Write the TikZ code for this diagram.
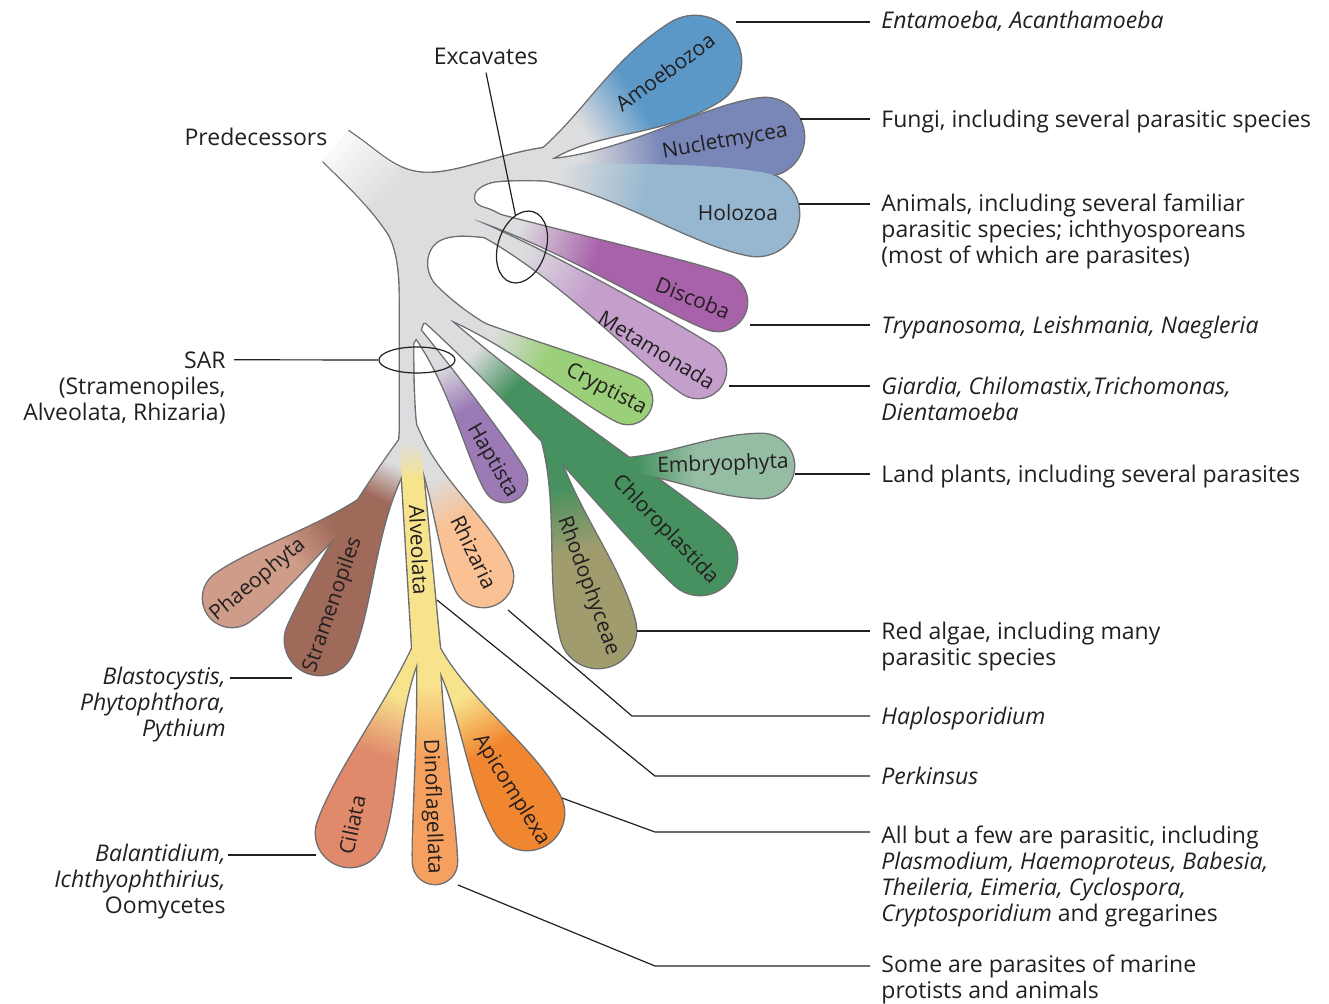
\documentclass[tikz,border=0pt]{standalone}
\usepackage{fontspec}
\setmainfont{Open Sans}
\usetikzlibrary{shapes.geometric}

\definecolor{ink}{HTML}{231F20}
\definecolor{rimgray}{HTML}{6D6E71}
\definecolor{stem}{HTML}{DCDDDF}
\definecolor{amoeba}{HTML}{5B98C7}
\definecolor{nucle}{HTML}{7887B8}
\definecolor{holo}{HTML}{96B7CF}
\definecolor{disco}{HTML}{A862AA}
\definecolor{metamo}{HTML}{C49FCC}
\definecolor{crypti}{HTML}{9CCF79}
\definecolor{chloro}{HTML}{46915F}
\definecolor{embryo}{HTML}{95BDA4}
\definecolor{rhodo}{HTML}{A09C6E}
\definecolor{hapti}{HTML}{9B7AB6}
\definecolor{rhiza}{HTML}{F9C194}
\definecolor{strameno}{HTML}{9F6A5A}
\definecolor{phaeo}{HTML}{CF9C89}
\definecolor{alveo}{HTML}{F8E38D}
\definecolor{cilia}{HTML}{E08A6B}
\definecolor{dino}{HTML}{F5A05E}
\definecolor{apico}{HTML}{F0862F}

% grey at the neck, colour towards the bulb
\colorlet{pbase}{stem}
\colorlet{ptip}{stem}
\pgfdeclarehorizontalshading[pbase,ptip]{petalshade}{100bp}{color(0bp)=(pbase); color(32bp)=(pbase); color(48bp)=(ptip); color(100bp)=(ptip)}
\pgfdeclarehorizontalshading[pbase,ptip]{petalquick}{100bp}{color(0bp)=(pbase); color(25bp)=(pbase); color(34bp)=(ptip); color(100bp)=(ptip)}
\def\pshade{petalshade}

\newif\ifrim
\def\getxy#1,#2\relax{\def\gx{#1}\def\gy{#2}}
% petal: neck, bulb centre, neck half width, bulb radius, bend, start colour, colour
\newcommand\petal[7]{%
  \getxy#1\relax\let\bx\gx\let\by\gy
  \getxy#2\relax
  \pgfmathsetmacro\pang{atan2(\by-\gy,\gx-\bx)}%
  \pgfmathsetmacro\plen{veclen(\gx-\bx,\gy-\by)}%
  \pgfmathsetmacro\pca{0.35*\plen*cos(#5)}%
  \pgfmathsetmacro\pcb{0.35*\plen*sin(#5)}%
  \pgfmathsetmacro\pcc{\plen-1.6*#4}%
  \ifrim\tikzset{petal look/.style={rim}}\else
    \colorlet{pbase}{#6}\colorlet{ptip}{#7}%
    \tikzset{petal look/.style={shade,shading=\pshade,shading angle=\pang}}\fi
  \begin{scope}[shift={(\bx,\by)},rotate=\pang,x=0.5pt,y=0.5pt]
    \path[petal look] (0,#3) .. controls (\pca,{\pcb+#3}) and (\pcc,#4) .. (\plen,#4)
      arc[start angle=90,end angle=-90,radius=#4]
      .. controls (\pcc,-#4) and (\pca,{\pcb-#3}) .. (0,-#3);
  \end{scope}}

\newcommand\trunkpath{(348,131) .. controls (380,152) and (395,173) .. (428,173)
  .. controls (462,173) and (505,152) .. (552,147)
  -- (546,158) -- (565,172) -- (575,182)
  .. controls (545,180) and (520,179) .. (497,181)
  .. controls (472,184) and (466,203) .. (484,208)
  .. controls (492,210) and (500,215) .. (506,218)
  -- (478,216) -- (468,226) -- (500,239)
  .. controls (478,236) and (452,232) .. (438,241)
  .. controls (423,251) and (424,274) .. (436,286)
  .. controls (450,300) and (470,316) .. (492,328)
  -- (462,318) -- (432,322) -- (423,323) -- (419,334) -- (413,343)
  .. controls (413,380) and (414,410) .. (416,425)
  -- (425,445) -- (424,455) -- (405,455) -- (399,447) -- (400,430)
  -- (400,300) .. controls (400,270) and (397,245) .. (386,230)
  .. controls (365,200) and (340,178) .. (323,161)}

\newcommand\allshapes{%
  \ifrim
    \draw[rim] \trunkpath;
    \draw[rim] (400,445) -- (413,660) (441,660) -- (421,452);
  \else
    \fill[stem] \trunkpath;
    \begin{scope}
      \clip \trunkpath;
      \shade[left color=white,right color=stem,shading angle=45] (320,120) rectangle (400,205);
    \end{scope}
  \fi
  \petal{535,163}{695,62}{6}{46}{6}{stem}{amoeba}
  \petal{535,166}{765,137}{6}{39}{-7}{stem}{nucle}
  \petal{505,170}{757,214}{6}{42}{10}{stem}{holo}
  \petal{455,208}{718,302}{5}{29}{4}{stem}{disco}
  \petal{455,217}{698,370}{5}{28}{10}{stem}{metamo}
  \petal{445,313}{628,400}{4}{24}{3}{stem}{crypti}
  \def\pshade{petalquick}%
  \petal{432,316}{700,558}{9}{37}{0}{stem}{chloro}
  \def\pshade{petalshade}%
  \petal{548,440}{598,630}{6}{38}{0}{chloro}{rhodo}
  \petal{610,465}{762,466}{6}{32}{0}{chloro}{embryo}
  \petal{412,326}{505,480}{4}{22}{8}{stem}{hapti}
  \petal{416,438}{483,577}{5}{30}{0}{stem}{rhiza}
  \def\pshade{petalquick}%
  \petal{410,442}{320,640}{10}{35}{-12}{stem}{strameno}
  \def\pshade{petalshade}%
  \petal{372,498}{232,598}{6}{29}{0}{strameno}{phaeo}
  \ifrim\else
    \fill[alveo] (400,445) -- (413,660) -- (441,660) -- (421,452) -- cycle;
    \shade[top color=stem,bottom color=alveo] (400,442) -- (421,442) -- (423.5,478) -- (402,478) -- cycle;
  \fi
  \petal{418,648}{350,833}{5}{34}{-5}{alveo}{cilia}
  \petal{428,648}{435,862}{11}{22}{0}{alveo}{dino}
  \petal{435,650}{527,813}{5}{37}{0}{alveo}{apico}
}

\begin{document}
\begin{tikzpicture}[x=0.5pt,y=-0.5pt,
    rim/.style={draw=rimgray,line width=1.4pt,line join=round},
    lead/.style={draw=ink,line width=0.6pt},
    ring/.style={draw=ink,line width=0.6pt,ellipse,inner sep=0pt},
    every node/.style={font=\fontsize{11.5}{13}\selectfont,text=ink,inner sep=0pt},
    group/.style={font=\fontsize{10.5}{12}\selectfont},
    note/.style={anchor=north west,align=left},
    lnote/.style={anchor=north east,align=right}]

    \useasboundingbox (0,0) rectangle (1329,1003);

    % outlines first, then the fills hide the inner half
    \rimtrue\allshapes
    \rimfalse\allshapes

    % group names
    \node[group,rotate=36] (amoebozoa) at (665,72) {Amoebozoa};
    \node[group,rotate=10] (nucletmycea) at (725,142) {Nucletmycea};
    \node[group] (holozoa) at (738,213) {Holozoa};
    \node[group,rotate=-22] (discoba) at (693,298) {Discoba};
    \node[group,rotate=-31] (metamonada) at (657,350) {Metamonada};
    \node[group,rotate=-27] (cryptista) at (606,390) {Cryptista};
    \node[group,rotate=2] (embryophyta) at (723,465) {Embryophyta};
    \node[group,rotate=-46] (chloroplastida) at (665,530) {Chloroplastida};
    \node[group,rotate=-70] (rhodophyceae) at (588,586) {Rhodophyceae};
    \node[group,rotate=-60] (haptista) at (492,461) {Haptista};
    \node[group,rotate=-64] (rhizaria) at (474,552) {Rhizaria};
    \node[group,rotate=-87] (alveolata) at (419,550) {Alveolata};
    \node[group,rotate=71] (stramenopiles) at (333,605) {Stramenopiles};
    \node[group,rotate=40] (phaeophyta) at (258,580) {Phaeophyta};
    \node[group,rotate=78] (ciliata) at (352,825) {Ciliata};
    \node[group,rotate=-88] (dinoflagellata) at (432,807) {Dinoflagellata};
    \node[group,rotate=-58] (apicomplexa) at (511,790) {Apicomplexa};

    % rings round the supergroups
    \node[ring,minimum width=24pt,minimum height=37pt,rotate=-18] (exc-ring) at (522,247) {};
    \node[ring,minimum width=38pt,minimum height=13pt] (sar-ring) at (417,360) {};

    % left side labels
    \node[anchor=base] (predecessors) at (256,145) {Predecessors};
    \node[anchor=base] (excavates) at (486,64) {Excavates};
    \node[anchor=base east] (sar) at (226,368) {SAR};
    \node[lnote] (sar-list) at (226,376) {\strut(Stramenopiles,\\Alveolata, Rhizaria)};
    \node[lnote] (blasto) at (226,666) {\strut\textit{Blastocystis,}\\\textit{Phytophthora,}\\\textit{Pythium}};
    \node[lnote] (balant) at (226,843) {\strut\textit{Balantidium,}\\\textit{Ichthyophthirius,}\\Oomycetes};

    % right side notes
    \node[note] (entamoeba) at (881,10) {\strut\textit{Entamoeba, Acanthamoeba}};
    \node[note] (fungi) at (881,109) {\strut Fungi, including several parasitic species};
    \node[note] (animals) at (881,193) {\strut Animals, including several familiar\\parasitic species; ichthyosporeans\\(most of which are parasites)};
    \node[note] (trypanosoma) at (881,315) {\strut\textit{Trypanosoma, Leishmania, Naegleria}};
    \node[note] (giardia) at (881,376) {\strut\textit{Giardia, Chilomastix,Trichomonas,}\\\textit{Dientamoeba}};
    \node[note] (landplants) at (881,464) {\strut Land plants, including several parasites};
    \node[note] (redalgae) at (881,621) {\strut Red algae, including many\\parasitic species};
    \node[note] (haplo) at (881,706) {\strut\textit{Haplosporidium}};
    \node[note] (perkinsus) at (881,766) {\strut\textit{Perkinsus}};
    \node[note] (allbut) at (881,825) {\strut All but a few are parasitic, including\\\textit{Plasmodium, Haemoproteus, Babesia,}\\\textit{Theileria, Eimeria, Cyclospora,}\\\textit{Cryptosporidium} and gregarines};
    \node[note] (someare) at (881,954) {\strut Some are parasites of marine\\protists and animals};

    % leader ends
    \coordinate (amoebozoa-out) at (736,22);
    \coordinate (entamoeba-in) at (870,22);
    \coordinate (nucletmycea-out) at (800,119);
    \coordinate (fungi-in) at (870,119);
    \coordinate (holozoa-out) at (799,204);
    \coordinate (animals-in) at (870,204);
    \coordinate (discoba-out) at (750,325);
    \coordinate (trypanosoma-in) at (870,325);
    \coordinate (metamonada-out) at (729,386);
    \coordinate (giardia-in) at (870,386);
    \coordinate (embryophyta-out) at (795,474);
    \coordinate (landplants-in) at (870,474);
    \coordinate (rhodophyceae-out) at (637,631);
    \coordinate (redalgae-in) at (870,631);
    \coordinate (rhizaria-out) at (508,610);
    \coordinate (haplo-bend) at (632,716);
    \coordinate (haplo-in) at (870,716);
    \coordinate (alveolata-out) at (437,600);
    \coordinate (perkinsus-bend) at (655,776);
    \coordinate (perkinsus-in) at (870,776);
    \coordinate (apicomplexa-out) at (562,798);
    \coordinate (allbut-bend) at (655,832);
    \coordinate (allbut-in) at (870,832);
    \coordinate (dinoflagellata-out) at (458,885);
    \coordinate (someare-bend) at (655,966);
    \coordinate (someare-in) at (870,966);
    \coordinate (stramenopiles-out) at (292,678);
    \coordinate (blasto-in) at (230,678);
    \coordinate (ciliata-out) at (316,855);
    \coordinate (balant-in) at (228,855);

    \draw[lead] (amoebozoa-out) -- (entamoeba-in);
    \draw[lead] (nucletmycea-out) -- (fungi-in);
    \draw[lead] (holozoa-out) -- (animals-in);
    \draw[lead] (discoba-out) -- (trypanosoma-in);
    \draw[lead] (metamonada-out) -- (giardia-in);
    \draw[lead] (embryophyta-out) -- (landplants-in);
    \draw[lead] (rhodophyceae-out) -- (redalgae-in);
    \draw[lead] (rhizaria-out) -- (haplo-bend) -- (haplo-in);
    \draw[lead] (alveolata-out) -- (perkinsus-bend) -- (perkinsus-in);
    \draw[lead] (apicomplexa-out) -- (allbut-bend) -- (allbut-in);
    \draw[lead] (dinoflagellata-out) -- (someare-bend) -- (someare-in);
    \draw[lead] (stramenopiles-out) -- (blasto-in);
    \draw[lead] (ciliata-out) -- (balant-in);
    \draw[lead] ([yshift=-4pt]excavates.south) -- (exc-ring);
    \draw[lead] ([xshift=4pt]sar.east) -- (sar-ring);
\end{tikzpicture}
\end{document}
